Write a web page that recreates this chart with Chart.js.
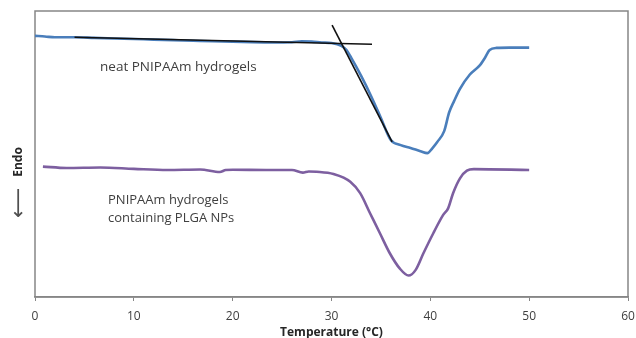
<!DOCTYPE html>
<html>
<head>
<meta charset="utf-8">
<script src="https://cdn.jsdelivr.net/npm/chart.js@4/dist/chart.umd.min.js"></script>
<style>
  html, body { margin: 0; padding: 0; background: #fff; }
</style>
</head>
<body>
<canvas id="chartCanvas" width="636" height="338"></canvas>
<script>
// DSC curves (arbitrary heat flow units, endo down)
var neatTemp = [0, 1, 2, 4, 6, 8, 10, 12, 14, 16, 18, 20, 22, 24, 26, 27, 28, 29, 30, 31, 31.5, 32, 33, 34, 35, 36, 37, 38, 39, 39.7, 40.2, 40.7, 41.4, 41.9, 42.4, 43, 44, 45, 45.5, 46, 46.7, 48, 50];
var neatHeat = [91.3, 91.1, 90.8, 90.8, 90.6, 90.4, 90.2, 90.0, 89.8, 89.6, 89.4, 89.3, 89.1, 89.0, 89.1, 89.4, 89.3, 89.0, 88.8, 87.8, 86.4, 83.6, 77.3, 70.3, 62.6, 54.9, 53.1, 52.1, 51.0, 50.3, 52.0, 54.2, 58.0, 64.5, 68.5, 72.8, 77.8, 81.0, 83.5, 86.4, 87.1, 87.2, 87.2];

var plgaTemp = [0.8, 3.2, 6.6, 10, 13.4, 16.7, 18.7, 19.3, 20, 23.4, 26, 27.1, 27.7, 28.5, 30.2, 31.9, 32.9, 33.9, 34.9, 35.9, 36.9, 37.8, 38.5, 39.3, 40.3, 41.3, 41.8, 42.3, 43, 43.7, 44.4, 50];
var plgaHeat = [45.6, 45.1, 45.3, 44.8, 44.4, 44.6, 43.7, 44.4, 44.5, 44.4, 44.4, 43.5, 43.9, 43.8, 43.0, 40.3, 36.3, 29.3, 22.3, 15.3, 10.0, 7.5, 9.4, 15.3, 22.3, 28.7, 31.0, 36.3, 41.5, 44.2, 44.7, 44.4];

// onset tangents drawn on the neat curve
var baseTanTemp = [4, 34.1];
var baseTanHeat = [90.8, 88.4];
var slopeTanTemp = [30.06, 36.13];
var slopeTanHeat = [95.1, 54.2];

var xTicks = [0, 10, 20, 30, 40, 50, 60];

var neatLabel = "neat PNIPAAm hydrogels";
var plgaLabel = ["PNIPAAm hydrogels", "containing PLGA NPs"];
var xTitle = "Temperature (\u00B0C)";
var yTitle = "Endo";
var yArrow = "\u27F5";

function toPoints(xs, ys) {
  var pts = [];
  for (var i = 0; i < xs.length; i++) {
    pts.push({ x: xs[i], y: ys[i] });
  }
  return pts;
}

var overlay = {
  id: "overlay",
  beforeDatasetsDraw: function (chart) {
    var c = chart.ctx;
    var a = chart.chartArea;
    c.save();
    c.strokeStyle = "#868686";
    c.lineWidth = 1.5;
    c.strokeRect(a.left, a.top, a.right - a.left, a.bottom - a.top);
    c.restore();
  },
  afterDatasetsDraw: function (chart) {
    var c = chart.ctx;
    var xs = chart.scales.x;
    var ys = chart.scales.y;
    c.save();
    c.fillStyle = "#404040";
    c.textBaseline = "middle";
    c.textAlign = "left";
    c.font = "13.5px 'Open Sans'";
    c.fillText(neatLabel, xs.getPixelForValue(6.58), ys.getPixelForValue(80.4));
    c.font = "13px 'Open Sans'";
    c.fillText(plgaLabel[0], xs.getPixelForValue(7.39), ys.getPixelForValue(33.9));
    c.fillText(plgaLabel[1], xs.getPixelForValue(7.39), ys.getPixelForValue(27.6));

    // rotated y title: arrow below "Endo"
    c.translate(19, 0);
    c.rotate(-Math.PI / 2);
    c.textAlign = "center";
    c.fillStyle = "#262626";
    c.font = "bold 12px 'Open Sans'";
    c.fillText(yTitle, -162, 0);
    c.font = "21px 'DejaVu Sans'";
    c.fillStyle = "#505050";
    c.fillText(yArrow, -203, 1);
    c.restore();
  },
};

var ctx = document.getElementById("chartCanvas").getContext("2d");

var chart = new Chart(ctx, {
  type: "line",
  data: {
    datasets: [
      {
        data: toPoints(baseTanTemp, baseTanHeat),
        borderColor: "#111111",
        borderWidth: 1.6,
        pointRadius: 0,
      },
      {
        data: toPoints(slopeTanTemp, slopeTanHeat),
        borderColor: "#111111",
        borderWidth: 1.6,
        pointRadius: 0,
      },
      {
        data: toPoints(neatTemp, neatHeat),
        borderColor: "#4a7ebb",
        borderWidth: 2.6,
        pointRadius: 0,
        cubicInterpolationMode: "monotone",
      },
      {
        data: toPoints(plgaTemp, plgaHeat),
        borderColor: "#7d5fa0",
        borderWidth: 2.6,
        pointRadius: 0,
        cubicInterpolationMode: "monotone",
      },
    ],
  },
  options: {
    responsive: false,
    animation: false,
    layout: {
      padding: { left: 35, right: 8, top: 11, bottom: -2 },
    },
    scales: {
      x: {
        type: "linear",
        min: 0,
        max: 60,
        afterBuildTicks: function (axis) {
          axis.ticks = xTicks.map(function (v) { return { value: v }; });
        },
        afterFit: function (axis) {
          // fixed axis band so the plot bottom sits where the picture has it
          axis.height = 43;
          axis.paddingRight = 0;
        },
        grid: {
          display: true,
          drawOnChartArea: false,
          drawTicks: true,
          tickLength: 4,
          color: "#868686",
        },
        border: { display: true, color: "#868686", width: 1.5 },
        ticks: {
          color: "#404040",
          font: { family: "'Open Sans'", size: 12 },
          padding: 8,
          maxRotation: 0,
        },
        title: {
          display: true,
          text: xTitle,
          color: "#262626",
          font: { family: "'Open Sans'", size: 12, weight: "bold", lineHeight: 1 },
          padding: { top: 0, bottom: 1.5 },
        },
      },
      y: {
        display: false,
        min: 0,
        max: 100,
      },
    },
    plugins: {
      legend: { display: false },
      tooltip: { enabled: false },
    },
  },
  plugins: [overlay],
});
</script>
</body>
</html>
